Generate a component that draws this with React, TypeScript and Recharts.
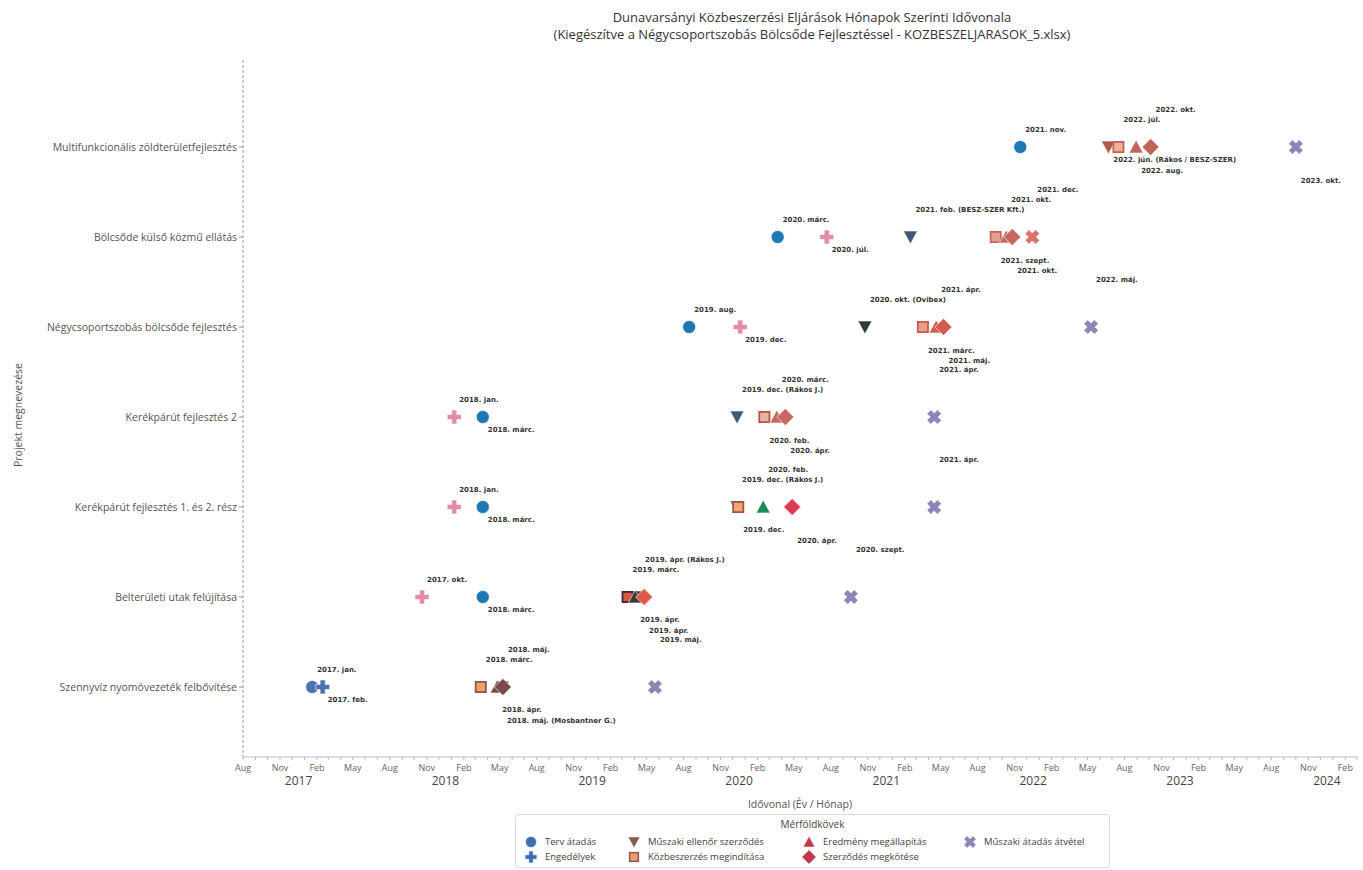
import React from 'react';
import { ScatterChart, Scatter, XAxis, YAxis } from 'recharts';

// Projects, bottom row first (y = index)
const projects = [
  'Szennyvíz nyomóvezeték felbővítése',
  'Belterületi utak felújítása',
  'Kerékpárút fejlesztés 1. és 2. rész',
  'Kerékpárút fejlesztés 2',
  'Négycsoportszobás bölcsőde fejlesztés',
  'Bölcsőde külső közmű ellátás',
  'Multifunkcionális zöldterületfejlesztés',
];

const milestoneTypes = [
  'Terv átadás',
  'Engedélyek',
  'Műszaki ellenőr szerződés',
  'Közbeszerzés megindítása',
  'Eredmény megállapítás',
  'Szerződés megkötése',
  'Műszaki átadás átvétel',
];

// [project, milestone type, date, label] - in label stacking order per project
const milestones: [number, number, string, string][] = [
  [0, 0, '2017-01-20', '2017. jan.'],
  [0, 1, '2017-02-15', '2017. feb.'],
  [0, 3, '2018-03-15', '2018. márc.'],
  [0, 4, '2018-04-25', '2018. ápr.'],
  [0, 5, '2018-05-09', '2018. máj.'],
  [0, 2, '2018-05-07', '2018. máj. (Mosbantner G.)'],
  [0, 6, '2019-05-22', '2019. máj.'],

  [1, 1, '2017-10-20', '2017. okt.'],
  [1, 0, '2018-03-20', '2018. márc.'],
  [1, 3, '2019-03-15', '2019. márc.'],
  [1, 4, '2019-04-03', '2019. ápr.'],
  [1, 2, '2019-04-15', '2019. ápr. (Rákos J.)'],
  [1, 5, '2019-04-25', '2019. ápr.'],
  [1, 6, '2020-09-20', '2020. szept.'],

  [2, 1, '2018-01-08', '2018. jan.'],
  [2, 0, '2018-03-20', '2018. márc.'],
  [2, 2, '2019-12-12', '2019. dec. (Rákos J.)'],
  [2, 3, '2019-12-15', '2019. dec.'],
  [2, 4, '2020-02-15', '2020. feb.'],
  [2, 5, '2020-04-27', '2020. ápr.'],
  [2, 6, '2021-04-15', '2021. ápr.'],

  [3, 1, '2018-01-08', '2018. jan.'],
  [3, 0, '2018-03-20', '2018. márc.'],
  [3, 2, '2019-12-12', '2019. dec. (Rákos J.)'],
  [3, 3, '2020-02-18', '2020. feb.'],
  [3, 4, '2020-03-20', '2020. márc.'],
  [3, 5, '2020-04-10', '2020. ápr.'],
  [3, 6, '2021-04-15', '2021. ápr.'],

  [4, 0, '2019-08-15', '2019. aug.'],
  [4, 1, '2019-12-20', '2019. dec.'],
  [4, 2, '2020-10-25', '2020. okt. (Ovibex)'],
  [4, 3, '2021-03-18', '2021. márc.'],
  [4, 4, '2021-04-20', '2021. ápr.'],
  [4, 5, '2021-05-08', '2021. máj.'],
  [4, 6, '2022-05-10', '2022. máj.'],

  [5, 0, '2020-03-22', '2020. márc.'],
  [5, 1, '2020-07-22', '2020. júl.'],
  [5, 2, '2021-02-15', '2021. feb. (BESZ-SZER Kft.)'],
  [5, 3, '2021-09-15', '2021. szept.'],
  [5, 4, '2021-10-11', '2021. okt.'],
  [5, 5, '2021-10-26', '2021. okt.'],
  [5, 6, '2021-12-15', '2021. dec.'],

  [6, 0, '2021-11-15', '2021. nov.'],
  [6, 2, '2022-06-22', '2022. jún. (Rákos / BESZ-SZER)'],
  [6, 3, '2022-07-17', '2022. júl.'],
  [6, 4, '2022-08-30', '2022. aug.'],
  [6, 5, '2022-10-05', '2022. okt.'],
  [6, 6, '2023-10-01', '2023. okt.'],
];

const monthTickLabels = ['', 'Feb', '', '', 'May', '', '', 'Aug', '', '', 'Nov', ''];
const yearTickLabels = ['2017', '2018', '2019', '2020', '2021', '2022', '2023', '2024'];

// styles (parallel to milestones)
const BLUE = '#1f77b4';
const BLUE2 = '#4c72b0';
const PINK = '#e48bad';
const SLATE = '#3f5a78';
const CORAL = '#c8675c';
const BROWN = '#7a4a4a';
const PURPLE = '#8c86b8';
const pointFill = [
  BLUE2, BLUE2, '#f2a066', BROWN, BROWN, BROWN, PURPLE,
  PINK, BLUE, '#d9574a', '#3a3a3a', '#333333', '#e05a48', PURPLE,
  PINK, BLUE, SLATE, '#f2a46e', '#1d8a5a', '#dc3d52', PURPLE,
  PINK, BLUE, SLATE, '#e9b3a2', CORAL, CORAL, PURPLE,
  BLUE, PINK, '#2c3a3e', '#e6a08e', '#d0584c', '#d65a50', PURPLE,
  BLUE, PINK, SLATE, '#e6a08e', CORAL, CORAL, '#d8736a',
  BLUE, '#b05a4c', '#f0b090', '#c0645a', '#c0645a', PURPLE,
];
const squareEdge = ['#8b5a4a', '#3a2a2a', '#9a5a48', '#b5554a', '#d0584c', '#c8675c', '#c0645a'];
const legendFill = ['#3a70b0', '#3a70b0', '#8a5a4c', '#e8a070', '#c23a48', '#c23a48', '#8c86b8'];

const X0 = Date.UTC(2016, 7, 1);
const X1 = Date.UTC(2024, 2, 1);
const ts = (s: string) => {
  const [y, m, d] = s.split('-').map(Number);
  return Date.UTC(y, m - 1, d);
};

const monthTicks: number[] = [];
for (let y = 2016, m = 7; Date.UTC(y, m, 1) <= X1; m++) {
  if (m > 11) { m = 0; y++; }
  monthTicks.push(Date.UTC(y, m, 1));
}

const rankCounter: Record<number, number> = {};
const chartData = milestones.map(([p, t, d, l], i) => {
  const rank = rankCounter[p] ?? 0;
  rankCounter[p] = rank + 1;
  return { x: ts(d), y: p, type: t, label: l, rank, fill: pointFill[i], edge: squareEdge[p] };
});

function markerPath(type: number, cx: number, cy: number, fill: string, edge?: string, scale = 1) {
  const s = scale;
  switch (type) {
    case 0:
      return <circle cx={cx} cy={cy} r={6.5 * s} fill={fill} stroke="#fff" strokeWidth={0.6} />;
    case 1: {
      const a = 7 * s, w = 2.6 * s;
      const d = `M${cx - w},${cy - a}H${cx + w}V${cy - w}H${cx + a}V${cy + w}H${cx + w}V${cy + a}H${cx - w}V${cy + w}H${cx - a}V${cy - w}H${cx - w}Z`;
      return <path d={d} fill={fill} stroke="#fff" strokeWidth={0.6} />;
    }
    case 2:
      return <polygon points={`${cx - 7 * s},${cy - 6 * s} ${cx + 7 * s},${cy - 6 * s} ${cx},${cy + 7 * s}`} fill={fill} stroke="#fff" strokeWidth={0.6} />;
    case 3:
      return (
        <g>
          <rect x={cx - 6 * s} y={cy - 6 * s} width={12 * s} height={12 * s} fill={edge} />
          <rect x={cx - 4.2 * s} y={cy - 4.2 * s} width={8.4 * s} height={8.4 * s} fill={fill} />
        </g>
      );
    case 4:
      return <polygon points={`${cx - 7 * s},${cy + 6 * s} ${cx + 7 * s},${cy + 6 * s} ${cx},${cy - 7 * s}`} fill={fill} stroke="#fff" strokeWidth={0.6} />;
    case 5: {
      const r = 8.5 * s;
      return <polygon points={`${cx},${cy - r} ${cx + r},${cy} ${cx},${cy + r} ${cx - r},${cy}`} fill={fill} stroke="#fff" strokeWidth={0.6} />;
    }
    default: {
      const a = 7.5 * s, w = 2.8 * s;
      const d = `M${cx - w},${cy - a}H${cx + w}V${cy - w}H${cx + a}V${cy + w}H${cx + w}V${cy + a}H${cx - w}V${cy + w}H${cx - a}V${cy - w}H${cx - w}Z`;
      return <path d={d} fill={fill} stroke="#fff" strokeWidth={0.6} transform={`rotate(45 ${cx} ${cy})`} />;
    }
  }
}

const MarkerShape = (props: any) => {
  const { cx, cy, payload } = props;
  if (cx == null || cy == null) return <g />;
  return markerPath(payload.type, cx, cy, payload.fill, payload.edge);
};

const LabelShape = (props: any) => {
  const { cx, cy, payload } = props;
  if (cx == null || cy == null) return <g />;
  const k = payload.rank;
  const dy = k % 2 === 0 ? -(17 + 10 * (k / 2)) : 13 + 10.5 * ((k - 1) / 2);
  return (
    <text x={cx + 5} y={cy + dy} dominantBaseline="central" fontSize={7} fontWeight="bold"
      fontFamily="DejaVu Sans, sans-serif" fill="#333">
      {payload.label}
    </text>
  );
};

const MonthTick = (props: any) => {
  const { x, y, payload } = props;
  const d = new Date(payload.value);
  const m = d.getUTCMonth();
  const lbl = monthTickLabels[m];
  const yr = m === 0 ? yearTickLabels.find(v => Number(v) === d.getUTCFullYear()) : undefined;
  return (
    <g>
      {lbl && <text x={x} y={y + 9} textAnchor="middle" fontSize={9} fill="#666" fontFamily="Open Sans, sans-serif">{lbl}</text>}
      {yr && <text x={x - 6} y={y + 23} textAnchor="middle" fontSize={12} fill="#444" fontFamily="Open Sans, sans-serif">{yr}</text>}
    </g>
  );
};

const ProjectTick = (props: any) => {
  const { x, y, payload } = props;
  return (
    <text x={x} y={y} dy={4} textAnchor="end" fontSize={10.5} fill="#555" fontFamily="Open Sans, sans-serif">
      {projects[payload.value]}
    </text>
  );
};

const legendPos = [
  [531, 842], [531, 857], [634, 842], [634, 857], [809, 842], [809, 857], [970, 842],
];

export default function App() {
  return (
    <div style={{ position: 'absolute', left: 0, top: 0, width: 1363, height: 870, background: '#fff', fontFamily: 'Open Sans, sans-serif' }}>
      <ScatterChart width={1363} height={870} margin={{ top: 60, right: 6, bottom: 63, left: 0 }}>
        <XAxis type="number" dataKey="x" domain={[X0, X1]} allowDataOverflow ticks={monthTicks} interval={0}
          tick={<MonthTick />} tickSize={3} height={50} stroke="#bbb" />
        <YAxis type="number" dataKey="y" domain={[-0.778, 6.967]} allowDataOverflow ticks={[0, 1, 2, 3, 4, 5, 6]}
          interval={0} tick={<ProjectTick />} width={243} tickSize={4}
          axisLine={{ stroke: '#999', strokeDasharray: '3 2' }} tickLine={{ stroke: '#999' }} />
        {milestoneTypes.map((name, t) => (
          <Scatter key={name} name={name} data={chartData.filter(d => d.type === t)} shape={MarkerShape} isAnimationActive={false} />
        ))}
        <Scatter name="labels" data={chartData} shape={LabelShape} isAnimationActive={false} />
      </ScatterChart>

      <div style={{ position: 'absolute', left: 412, top: 9, width: 800, textAlign: 'center', fontSize: 13, lineHeight: '17px', color: '#333' }}>
        Dunavarsányi Közbeszerzési Eljárások Hónapok Szerinti Idővonala<br />
        (Kiegészítve a Négycsoportszobás Bölcsőde Fejlesztéssel - KOZBESZELJARASOK_5.xlsx)
      </div>

      <div style={{ position: 'absolute', left: 18, top: 415, transform: 'translate(-50%, -50%) rotate(-90deg)', fontSize: 10.5, color: '#555', whiteSpace: 'nowrap' }}>
        Projekt megnevezése
      </div>

      <div style={{ position: 'absolute', left: 600, top: 797, width: 400, textAlign: 'center', fontSize: 10.5, color: '#555' }}>
        Idővonal (Év / Hónap)
      </div>

      <div style={{ position: 'absolute', left: 515, top: 814, width: 595, height: 54, border: '1px solid #ddd', borderRadius: 3, background: '#fff', boxSizing: 'border-box' }}>
        <div style={{ position: 'absolute', left: 0, top: 2, width: '100%', textAlign: 'center', fontSize: 10, color: '#444' }}>Mérföldkövek</div>
      </div>
      {milestoneTypes.map((name, t) => {
        const [lx, ly] = legendPos[t];
        return (
          <div key={name}>
            <svg style={{ position: 'absolute', left: lx - 8, top: ly - 8 }} width={16} height={16}>
              {markerPath(t, 8, 8, legendFill[t], '#8a5a4c', 0.85)}
            </svg>
            <div style={{ position: 'absolute', left: lx + 14, top: ly - 7, fontSize: 9.5, lineHeight: '14px', color: '#444', whiteSpace: 'nowrap' }}>{name}</div>
          </div>
        );
      })}
    </div>
  );
}
